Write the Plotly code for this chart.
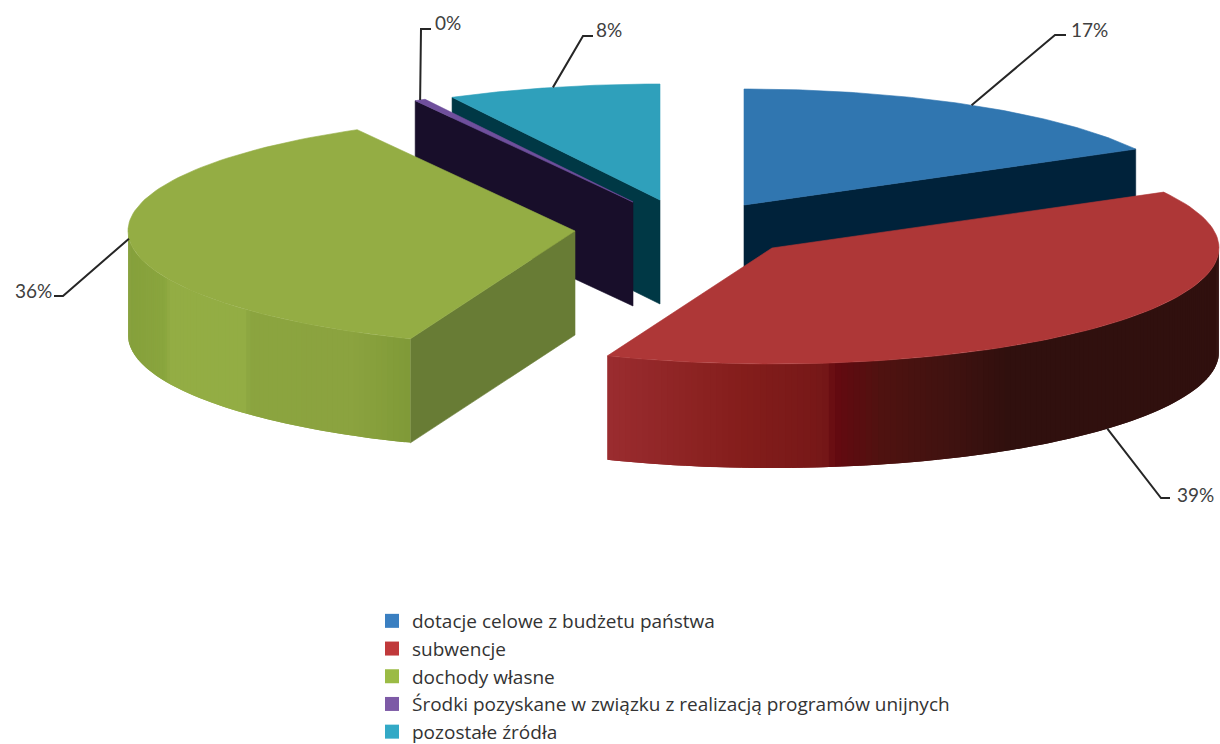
import numpy as np
import plotly.graph_objects as go

categories = ["dotacje celowe z budżetu państwa", "subwencje", "dochody własne",
              "Środki pozyskane w związku z realizacją programów unijnych", "pozostałe źródła"]
values = [17.0, 39.0, 35.9, 0.4, 7.7]

top_colors = ["#3076b0", "#ae3737", "#94ad44", "#6f4f9c", "#2fa0bb"]
legend_colors = ["#3a7fc1", "#c0393b", "#9bbb45", "#7d5aa6", "#33a9c6"]
face_colors = ["#00223a", "#5a1414", "#687c35", "#180e2a", "#003845"]
apex = [(744, 205), (772, 248), (575, 231), (633, 202), (660, 200)]
wall_stops = {
    1: ([607, 740, 825, 835, 880, 960, 1010, 1220],
        [(155, 45, 48), (133, 30, 28), (118, 24, 24), (101, 10, 16), (80, 18, 16), (62, 18, 16), (48, 16, 14), (48, 16, 14)]),
    2: ([127, 165, 170, 245, 250, 355, 410],
        [(134, 160, 60), (138, 166, 62), (147, 173, 68), (147, 173, 68), (139, 165, 64), (139, 163, 63), (128, 154, 56)]),
}
RX, RY, DEPTH = 447, 116, 104
leaders = [((1055, 35), (1066, 35)), ((1161, 498), (1170, 498)), ((63, 296), (54, 296)),
           ((421, 29), (431, 29)), ((583, 36), (593, 36))]
label_pos = [(1089, 29), (1195, 494), (33, 290), (448, 22), (609, 29)]
draw_order = [4, 3, 0, 2, 1]

fractions = np.array(values) / sum(values)
edges = np.concatenate([[0], np.cumsum(fractions)]) * 2 * np.pi


def pt(i, th):
    ax, ay = apex[i]
    return ax + RX * np.sin(th), ay - RY * np.cos(th)


def poly(xs, ys, color, width=0.6):
    return go.Scatter(x=list(xs), y=list(ys), mode="lines", fill="toself", fillcolor=color,
                      line=dict(color=color, width=width), hoverinfo="skip", showlegend=False)


fig = go.Figure()
for i in draw_order:
    t0, t1 = edges[i], edges[i + 1]
    ax, ay = apex[i]
    # visible cut faces
    for th, visible in ((t0, np.sin(t0) < -1e-6), (t1, np.sin(t1) > 1e-6)):
        if visible:
            x, y = pt(i, th)
            fig.add_trace(poly([ax, x, x, ax, ax], [ay, y, y + DEPTH, ay + DEPTH, ay], face_colors[i]))
    # outer wall: overlapping narrow strips shaded across x, so no seams show
    a, b = max(t0, np.pi / 2), min(t1, 3 * np.pi / 2)
    if b > a and i in wall_stops:
        sx, sc = wall_stops[i]
        sc = np.array(sc, float)
        n = max(2, int((b - a) / np.radians(0.8)))
        ths = np.linspace(a, b, n + 1)
        for k_s in range(n):
            p, q = ths[k_s], ths[k_s + 1]
            far = ths[min(k_s + 2, n)]
            arc = np.linspace(p, far, 5)
            xa, ya = pt(i, arc)
            mx = float(np.mean(pt(i, np.array([p, q]))[0]))
            rgb = [int(np.interp(mx, sx, sc[:, k])) for k in range(3)]
            fig.add_trace(poly(np.r_[xa, xa[::-1], xa[0]], np.r_[ya, ya[::-1] + DEPTH, ya[0]],
                               f"rgb({rgb[0]},{rgb[1]},{rgb[2]})", width=0))
    # top surface
    th = np.linspace(t0, t1, 90)
    x, y = pt(i, th)
    fig.add_trace(poly(np.r_[ax, x, ax], np.r_[ay, y, ay], top_colors[i]))

# leader lines and percentage labels
for i, ((ex, ey), (fx, fy)) in enumerate(leaders):
    mid = (edges[i] + edges[i + 1]) / 2
    sx, sy = pt(i, mid)
    if np.cos(mid) < -0.3:
        sy += DEPTH
    fig.add_trace(go.Scatter(x=[sx, ex, fx], y=[sy, ey, fy], mode="lines",
                             line=dict(color="#262626", width=2), hoverinfo="skip", showlegend=False))
    lx, ly = label_pos[i]
    fig.add_annotation(x=lx, y=ly, text=f"{values[i]:.0f}%", showarrow=False,
                       font=dict(family="Lato", size=19, color="#404040"), xanchor="center", yanchor="middle")

# legend entries
for name, c in zip(categories, legend_colors):
    fig.add_trace(go.Scatter(x=[None], y=[None], mode="markers", name=name,
                             marker=dict(symbol="square", size=14, color=c)))

fig.update_layout(
    width=1220, height=744, margin=dict(l=0, r=0, t=0, b=0, autoexpand=False),
    paper_bgcolor="white", plot_bgcolor="white",
    xaxis=dict(range=[0, 1220], visible=False, fixedrange=True),
    yaxis=dict(range=[744, 0], visible=False, fixedrange=True),
    legend=dict(x=372 / 1220, y=1 - 602 / 744, xanchor="left", yanchor="top",
                font=dict(family="Open Sans", size=19, color="#333333"),
                bgcolor="rgba(0,0,0,0)", tracegroupgap=0, borderwidth=0),
)
fig.write_html("out.html", config={"displayModeBar": False},
               post_script="document.body.style.margin='0';document.body.style.overflow='hidden';")
